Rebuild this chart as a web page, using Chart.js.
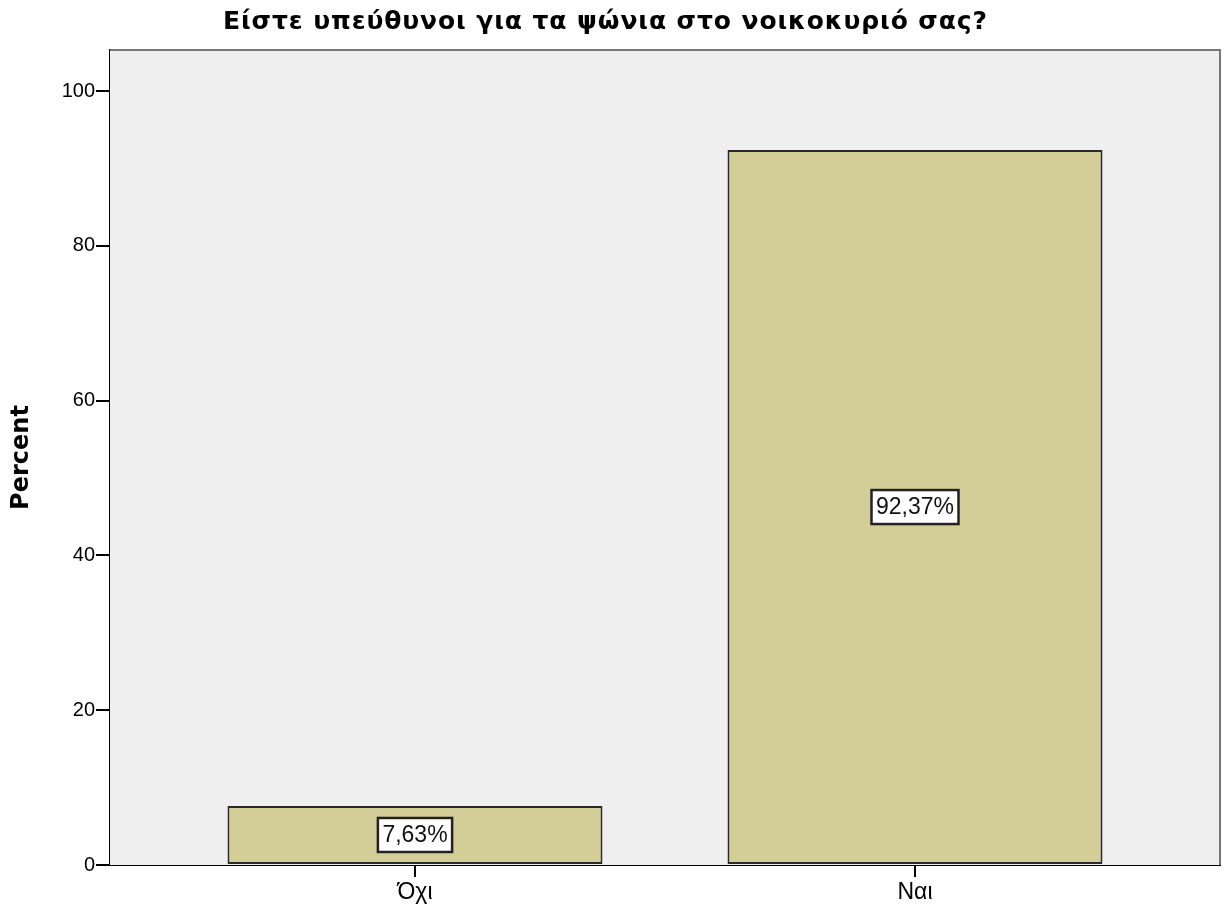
<!DOCTYPE html>
<html>
<head>
<meta charset="utf-8">
<script src="https://cdn.jsdelivr.net/npm/chart.js@4"></script>
<style>
  html, body { margin: 0; padding: 0; background: #fff; }
  #wrap { width: 1224px; height: 911px; }
</style>
</head>
<body>
<div id="wrap"><canvas id="chart" width="1224" height="911"></canvas></div>
<script>
const titleText = "Είστε υπεύθυνοι για τα ψώνια στο νοικοκυριό σας?";
const categories = ["Όχι", "Ναι"];
const percents = [7.63, 92.37];
const yTicks = [0, 20, 40, 60, 80, 100];

const FONT = "'Liberation Sans', Arial, sans-serif";
const NARROW = "'Liberation Sans Narrow', 'Arial Narrow', 'Liberation Sans', sans-serif";
const BOLD_FONT = "'DejaVu Sans', Verdana, sans-serif";

// plot background + grey top/right frame
const frame = {
  id: 'frame',
  beforeDatasetsDraw(chart) {
    const { ctx, chartArea: a } = chart;
    ctx.save();
    ctx.fillStyle = '#efefef';
    ctx.fillRect(a.left, a.top, a.right - a.left, a.bottom - a.top);
    ctx.restore();
  },
  afterDraw(chart) {
    const { ctx, chartArea: a } = chart;
    ctx.save();
    ctx.strokeStyle = '#777';
    ctx.lineWidth = 2;
    ctx.beginPath();
    ctx.moveTo(a.left, a.top);
    ctx.lineTo(a.right, a.top);
    ctx.lineTo(a.right, a.bottom);
    ctx.stroke();
    ctx.restore();
  }
};

// title drawn by hand so its width can match the original
const wideTitle = {
  id: 'wideTitle',
  afterDraw(chart) {
    const ctx = chart.ctx;
    ctx.save();
    ctx.font = 'bold 25px ' + BOLD_FONT;
    ctx.fillStyle = '#000';
    ctx.textBaseline = 'alphabetic';
    ctx.textAlign = 'left';
    const w = ctx.measureText(titleText).width;
    const spacing = Math.max(0, (764 - w) / (titleText.length - 1));
    ctx.letterSpacing = spacing + 'px';
    const full = ctx.measureText(titleText).width - spacing;
    ctx.fillText(titleText, 605 - full / 2, 29);
    ctx.restore();
  }
};

// boxed percent labels in the middle of each bar
const boxLabels = {
  id: 'boxLabels',
  afterDatasetsDraw(chart) {
    const ctx = chart.ctx;
    const meta = chart.getDatasetMeta(0);
    ctx.save();
    ctx.font = '23px ' + NARROW;
    ctx.textAlign = 'center';
    ctx.textBaseline = 'middle';
    meta.data.forEach((bar, i) => {
      const txt = percents[i].toFixed(2).replace('.', ',') + '%';
      const cx = bar.x;
      const cy = (bar.y + bar.base) / 2;
      const w = ctx.measureText(txt).width + 9;
      const h = 34;
      ctx.fillStyle = '#fff';
      ctx.fillRect(cx - w / 2, cy - h / 2, w, h);
      ctx.strokeStyle = '#222';
      ctx.lineWidth = 2.5;
      ctx.strokeRect(cx - w / 2, cy - h / 2, w, h);
      ctx.fillStyle = '#111';
      ctx.fillText(txt, cx, cy + 1);
    });
    ctx.restore();
  }
};

new Chart(document.getElementById('chart'), {
  type: 'bar',
  data: {
    datasets: [{
      data: percents.map((v, i) => ({ x: i, y: v })),
      backgroundColor: '#d3ce98',
      borderColor: '#2a2a2a',
      borderWidth: 2,
      borderSkipped: false,
      categoryPercentage: 0.75,
      barPercentage: 1.0
    }]
  },
  options: {
    responsive: false,
    animation: false,
    layout: { padding: { left: 0, right: 4, top: 50, bottom: 0 } },
    plugins: {
      legend: { display: false },
      tooltip: { enabled: false },
      title: { display: false }
    },
    scales: {
      x: {
        type: 'linear',
        offset: false,
        min: -0.61,
        max: 1.61,
        afterBuildTicks(scale) {
          scale.ticks = categories.map((c, i) => ({ value: i }));
        },
        afterFit(scale) { scale.height = 46; },
        grid: { offset: false, drawOnChartArea: false, tickLength: 12, color: '#000', lineWidth: 2 },
        border: { color: '#000', width: 2 },
        ticks: {
          color: '#000',
          padding: 2,
          autoSkip: false,
          maxRotation: 0,
          font: { family: NARROW, size: 23 },
          callback: (v) => categories[v]
        }
      },
      y: {
        min: 0,
        max: 105.3,
        afterBuildTicks(scale) {
          scale.ticks = yTicks.map(v => ({ value: v }));
        },
        afterFit(scale) { scale.width = 110; },
        grid: { drawOnChartArea: false, tickLength: 14, color: '#000', lineWidth: 2 },
        border: { color: '#000', width: 2 },
        title: {
          display: true,
          text: 'Percent',
          color: '#000',
          font: { family: BOLD_FONT, size: 24, weight: 'bold' },
          padding: { top: 7, bottom: 0 }
        },
        ticks: {
          color: '#000',
          padding: 1,
          font: { family: FONT, size: 20 }
        }
      }
    }
  },
  plugins: [frame, boxLabels, wideTitle]
});
</script>
</body>
</html>
